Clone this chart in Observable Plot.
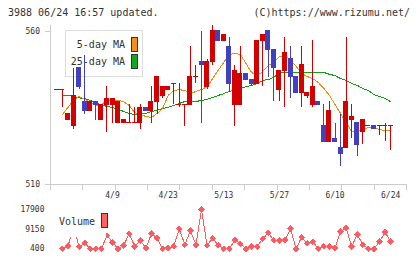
<!DOCTYPE html>
<html><head><meta charset="utf-8">
<script src="https://cdn.jsdelivr.net/npm/d3@7"></script>
<script src="https://cdn.jsdelivr.net/npm/@observablehq/plot@0.6"></script>
<style>
body{margin:0;background:#fff;}
#wrap{position:relative;width:420px;height:259px;overflow:hidden;font-family:"DejaVu Sans Mono",monospace;color:#333;}
.abs{position:absolute;white-space:pre;}
.t10{font-size:10px;line-height:12px;}
</style></head><body>
<div id="wrap">
  <div class="abs t10" style="left:8px;top:7px;">3988 06/24 16:57 updated.</div>
  <div class="abs t10" style="right:10px;top:7px;">(C)https://www.rizumu.net/</div>
  <div class="abs" style="left:65px;top:30px;width:76px;height:45px;border:1px solid #ddd;background:#fff;z-index:0;"></div>
  <div class="abs t10" style="right:295px;top:39px;z-index:0;">5-day MA</div>
  <div class="abs t10" style="right:295px;top:56px;z-index:0;">25-day MA</div>
  <div class="abs" style="left:131px;top:37px;width:5px;height:13px;border:1px solid #333;background:#f39019;z-index:0;"></div>
  <div class="abs" style="left:131px;top:54px;width:5px;height:13px;border:1px solid #333;background:#10a820;z-index:0;"></div>
  <div id="price" class="abs" style="left:0;top:0;z-index:1;"></div>
  <div id="vol" class="abs" style="left:0;top:205px;z-index:1;"></div>
  <div class="abs" style="left:56px;top:208px;width:50px;height:29px;background:#fff;z-index:2;"></div>
  <div class="abs t10" style="left:59px;top:216px;z-index:3;">Volume</div>
  <div class="abs" style="left:101px;top:213px;width:5px;height:13px;border:1px solid #333;background:#ff6060;z-index:3;"></div>
</div>
<script>
// ---- data (index 0..60 = trading days) ----
const open  = [541,541,531,529,548,537,534,537,531,536, 536,530,530,530,530,530,535,534,537,539, 541,543,536,536,536,545,550,542,550,560, 557,555,536,536,546,544,543,557,560,554, 541,547,551,545,540,539,536,537,529,524, 525,522,522,531,530,527,529,529,529,529, 529];
const high  = [541,541,533,548,548,552,537,537,536,542, 538,537,531,536,535,536,535,542,545,542, 542,543,543,536,555,549,560,551,562,560, 559,558,549,555,546,544,557,559,560,554, 547,558,555,545,555,540,557,537,536,537, 530,533,558,536,530,531,529,529,529,530, 529];
const low   = [541,535,531,528,541,533,534,531,531,527, 530,530,530,530,530,528,534,530,533,538, 541,536,535,529,536,543,530,541,549,557, 557,540,529,536,544,542,543,542,545,537, 537,535,538,540,535,538,535,536,524,524, 524,516,522,525,519,523,529,528,526,524, 521];
const close = [541,541,533,539,542,534,537,536,536,538, 538,537,531,530,530,535,534,537,545,542, 542,543,536,536,545,545,549,550,560,557, 559,543,547,546,544,543,557,559,554,548, 547,553,545,540,549,540,542,536,524,534, 524,520,537,532,523,531,529,528,529,529, 529];
const ma5   = [null,532.9,535.2,537.5,538.8,537.8,536.8,535.8,536.1,537.5, 537.5,537.5,537.1,535.8,533.5,532.9,532.2,531.9,533.2,534.8, 539.1,540.7,541.0,540.7,539.7,540.4,541.0,542.0,544.6,547.3, 549.9,552.5,552.8,552.5,549.5,546.6,545.6,546.9,548.9,549.9, 551.8,552.2,550.5,548.6,546.3,545.3,544.6,543.3,541.4,539.1, 536.1,533.2,530.3,527.3,527.3,528.0,528.6,528.6,528.0,527.6, 527.6];
const ma25  = [null,539.1,539.1,538.8,538.3,538.1,537.5,536.5,536.1,535.5, 535.2,534.5,533.9,533.2,532.9,533.2,533.2,533.9,534.2,534.8, 535.2,535.8,536.5,537.1,537.1,537.1,537.5,537.8,538.4,539.1, 539.7,540.4,541.0,541.4,542.0,542.4,543.0,544.0,544.3,545.0, 546.6,546.6,546.6,546.6,546.6,546.6,546.6,546.6,546.6,546.0, 545.6,544.6,544.0,543.0,542.4,541.4,540.7,539.4,538.8,538.1, 537.1];
const volume = [null,400,1700,10300,1300,3000,400,400,400,6300, 3300,400,1900,7100,1400,4100,700,7100,5300,400, 700,1500,9300,2200,8500,2200,17900,1900,5100,1900, 400,400,4400,2600,400,1400,1400,4800,7500,4100, 4100,4400,9300,400,5600,2900,3600,400,1500,1500, 700,8200,9600,1400,6800,2200,400,400,3600,7800, 3600];
const dateLabelIndex = [10,20,30,40,50,60];
const dateLabels = ["4/9","4/23","5/13","5/27","6/10","6/24"];
const priceTicks = [510,560];
const volTicks = [400,9150,17900];

const RED = "#d40000", BLUE = "#4040c0", ORANGE = "#f08c10", GREEN = "#10a010", VOLC = "#ff5a5f", AXIS = "#cccccc";
const candles = open.map((o,i) => ({k:i, o, h:high[i], l:low[i], c:close[i], col: close[i] < o ? BLUE : RED}));
const ma5rows = ma5.map((v,k)=>({k,v})).filter(d=>d.v!=null);
const ma25rows = ma25.map((v,k)=>({k,v})).filter(d=>d.v!=null);
const volRows = volume.map((v,k)=>({k,v})).filter(d=>d.v!=null);
const labels = dateLabelIndex.map((k,i)=>({k, label: dateLabels[i]}));

const xDomain = [-1.15, 62.85];
const gridTicks = d3.range(12).map(j => xDomain[0] + j*(xDomain[1]-xDomain[0])/11);
const style = "background:transparent;overflow:visible;font-family:'DejaVu Sans Mono',monospace;shape-rendering:crispEdges;";

const price = Plot.plot({
  width: 420, height: 205, marginLeft: 50, marginRight: 14, marginTop: 25, marginBottom: 21,
  x: {domain: xDomain, axis: null, label: null},
  y: {domain: [510, 561.96], axis: null, label: null},
  color: {type: "identity"},
  style,
  marks: [
    Plot.ruleX([xDomain[0]], {stroke: AXIS}),
    Plot.ruleY([510], {stroke: AXIS}),
    Plot.axisX(gridTicks, {tickSize: 6, stroke: AXIS, fill: "none", label: null}),
    Plot.axisY(priceTicks, {tickSize: 5, tickPadding: 5.5, stroke: AXIS, fill: "#333", fontSize: 8, label: null, tickFormat: d => String(d)}),
    Plot.text(labels, {x: "k", text: "label", frameAnchor: "bottom", dy: 13.5, fontSize: 8, fill: "#333"}),
    Plot.line(ma25rows, {x: "k", y: "v", stroke: GREEN, strokeWidth: 1}),
    Plot.line(ma5rows, {x: "k", y: "v", stroke: ORANGE, strokeWidth: 1}),
    Plot.ruleX(candles, {x: "k", y1: "l", y2: "h", stroke: "col"}),
    Plot.rect(candles, {x1: d => d.k - 0.45, x2: d => d.k + 0.45, y1: "o", y2: "c", fill: "col", insetTop: -0.5, insetBottom: -0.5})
  ]
});
document.getElementById("price").append(price);

const vol = Plot.plot({
  width: 420, height: 54, marginLeft: 50, marginRight: 14, marginTop: 4, marginBottom: 10.7,
  x: {domain: xDomain, axis: null, label: null},
  y: {domain: [400, 17900], axis: null, label: null},
  style,
  marks: [
    Plot.axisY(volTicks, {tickSize: 0, tickPadding: 6, stroke: "none", fill: "#333", fontSize: 8, label: null, tickFormat: d => String(d)}),
    Plot.line(volRows, {x: "k", y: "v", stroke: VOLC, strokeWidth: 1}),
    Plot.dot(volRows, {x: "k", y: "v", symbol: "diamond2", r: 3, fill: VOLC, stroke: "none"})
  ]
});
document.getElementById("vol").append(vol);
</script>
</body></html>
